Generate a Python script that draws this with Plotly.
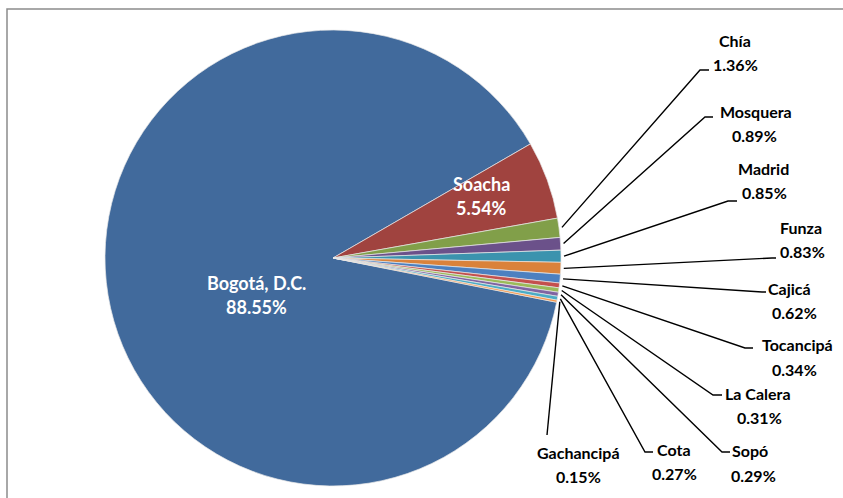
import math
import plotly.graph_objects as go

# ---- data ----
municipios = ["Bogotá, D.C.", "Soacha", "Chía", "Mosquera", "Madrid", "Funza",
              "Cajicá", "Tocancipá", "La Calera", "Sopó", "Cota", "Gachancipá"]
porcentajes = [88.55, 5.54, 1.36, 0.89, 0.85, 0.83, 0.62, 0.34, 0.31, 0.29, 0.27, 0.15]
colores = ["#416A9C", "#A0433F", "#819F49", "#6B518A", "#3B93AE", "#DA823B",
           "#4C80C0", "#C4504D", "#9BBB59", "#8064A2", "#4BACC6", "#F79646"]

# ---- layout constants (pixels) ----
W, H = 843, 498
CX, CY, R = 333, 258, 228
ROT = 101.2

def px(x):
    return x / W

def py(y):
    return 1 - y / H

fig = go.Figure()
fig.add_trace(go.Pie(
    labels=municipios, values=porcentajes, sort=False, direction="clockwise",
    rotation=ROT, textinfo="none", hoverinfo="label+percent",
    marker=dict(colors=colores, line=dict(color="#E8E8E8", width=0.7)),
    domain=dict(x=[px(CX - R), px(CX + R)], y=[py(CY + R), py(CY - R)]),
    showlegend=False,
))

# label placement for the outside labels: (name_x, name_y, value_x, value_y, elbow_x, elbow_y, end_x)
label_pos = {
    "Chía":       (735, 40, 735, 64, 700, 70, 709),
    "Mosquera":   (756, 111, 754, 135, 705, 117, 713),
    "Madrid":     (763, 168, 764, 193, 728, 201, 737),
    "Funza":      (801, 228, 802, 252, 772, 258, 776),
    "Cajicá":     (789, 288, 794, 312, 762, 292, 766),
    "Tocancipá":  (797, 344, 794, 369, 745, 348, 753),
    "La Calera":  (758, 393, 759, 417, 713, 395, 722),
    "Sopó":       (750, 450, 753, 475, 722, 452, 730),
    "Cota":       (674, 449, 674, 473, 645, 452, 653),
    "Gachancipá": (578, 452, 578, 476, 547, 435, 547),
}

total = sum(porcentajes)
cum = 0.0
shapes = []
annotations = []
lab_font = dict(family="Lato, 'Open Sans', sans-serif", size=16, color="#000000", weight="bold")
for name, val in zip(municipios, porcentajes):
    mid = math.radians(ROT + 360 * (cum + val / 2) / total)
    cum += val
    if name not in label_pos:
        continue
    nx, ny, vx, vy, ex, ey, endx = label_pos[name]
    sx = CX + (R + 3) * math.sin(mid)
    sy = CY - (R + 3) * math.cos(mid)
    shapes.append(dict(
        type="path", xref="paper", yref="paper",
        path=f"M {px(sx)},{py(sy)} L {px(ex)},{py(ey)} L {px(endx)},{py(ey)}",
        line=dict(color="#000000", width=1.4),
    ))
    annotations.append(dict(x=px(nx), y=py(ny), xref="paper", yref="paper", text=name,
                            showarrow=False, font=lab_font, xanchor="center", yanchor="middle"))
    annotations.append(dict(x=px(vx), y=py(vy), xref="paper", yref="paper",
                            text=f"{val:.2f}%", showarrow=False, font=lab_font,
                            xanchor="center", yanchor="middle"))

# inside labels
in_font = dict(family="Lato, 'Open Sans', sans-serif", size=18, color="#FFFFFF", weight="bold")
inside_pos = {"Bogotá, D.C.": (256, 283, 256, 307), "Soacha": (481, 184, 481, 208)}
for name, val in zip(municipios, porcentajes):
    if name in inside_pos:
        nx, ny, vx, vy = inside_pos[name]
        annotations.append(dict(x=px(nx), y=py(ny), xref="paper", yref="paper", text=name,
                                showarrow=False, font=in_font, xanchor="center", yanchor="middle"))
        annotations.append(dict(x=px(vx), y=py(vy), xref="paper", yref="paper",
                                text=f"{val:.2f}%", showarrow=False, font=in_font,
                                xanchor="center", yanchor="middle"))

# chart frame
shapes.append(dict(type="rect", xref="paper", yref="paper",
                   x0=px(7), y0=-0.05, x1=1.05, y1=py(9),
                   line=dict(color="#8C8C8C", width=1.5), layer="below"))

fig.update_layout(
    width=W, height=H, margin=dict(l=0, r=0, t=0, b=0),
    paper_bgcolor="#FFFFFF", plot_bgcolor="#FFFFFF",
    shapes=shapes, annotations=annotations,
)
fig.write_html("out.html")
